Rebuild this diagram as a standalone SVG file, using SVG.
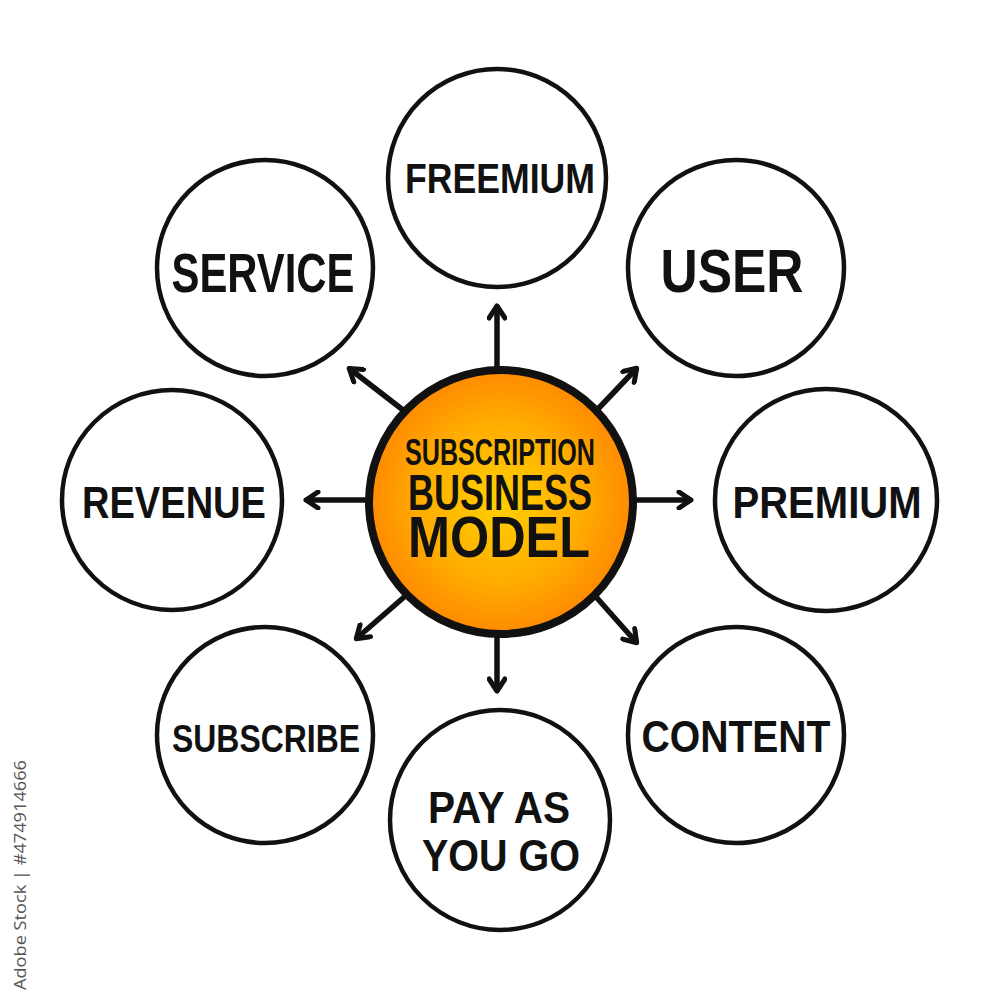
<svg xmlns="http://www.w3.org/2000/svg" width="1000" height="1000" viewBox="0 0 1000 1000">
<defs>
<radialGradient id="og" cx="50%" cy="50%" r="50%">
<stop offset="0" stop-color="#ffd000"/>
<stop offset="0.6" stop-color="#ffad00"/>
<stop offset="1" stop-color="#ff8a00"/>
</radialGradient>
<marker id="ah" viewBox="0 0 20 20" refX="14" refY="10" markerWidth="20" markerHeight="20" markerUnits="userSpaceOnUse" orient="auto">
<path d="M3,2 L15,10 L3,18" fill="none" stroke="#111" stroke-width="5" stroke-linecap="round" stroke-linejoin="round"/>
</marker>
</defs>
<style>
.c{fill:#fff;stroke:#111;stroke-width:4.5}
.t{font-family:"Liberation Sans",Arial,sans-serif;font-weight:bold;fill:#111;text-anchor:middle}
.a{stroke:#111;stroke-width:5.5;stroke-linecap:round;fill:none;marker-end:url(#ah)}
</style>
<rect width="1000" height="1000" fill="#fff"/>
<g id="connectors">
<line class="a" x1="497" y1="368" x2="497" y2="307"/>
<line class="a" x1="597" y1="410" x2="636" y2="369"/>
<line class="a" x1="637" y1="500" x2="690" y2="500"/>
<line class="a" x1="597" y1="598" x2="636" y2="642"/>
<line class="a" x1="497" y1="636" x2="497" y2="690"/>
<line class="a" x1="403" y1="598" x2="357" y2="638"/>
<line class="a" x1="365" y1="500" x2="307" y2="500"/>
<line class="a" x1="403" y1="410" x2="350" y2="369"/>
</g>
<g id="center">
<circle cx="501" cy="502" r="132" fill="url(#og)" stroke="#111" stroke-width="8"/>
<text class="t" x="500" y="465" font-size="36" textLength="190" lengthAdjust="spacingAndGlyphs">SUBSCRIPTION</text>
<text class="t" x="500" y="510" font-size="50" textLength="184" lengthAdjust="spacingAndGlyphs">BUSINESS</text>
<text class="t" x="499" y="557" font-size="58" textLength="182" lengthAdjust="spacingAndGlyphs">MODEL</text>
</g>
<g id="freemium">
<circle class="c" cx="497" cy="178" r="109"/>
<text class="t" x="500" y="193" font-size="42" textLength="190" lengthAdjust="spacingAndGlyphs">FREEMIUM</text>
</g>
<g id="user">
<circle class="c" cx="736" cy="268" r="108"/>
<text class="t" x="732" y="292" font-size="62" textLength="143" lengthAdjust="spacingAndGlyphs">USER</text>
</g>
<g id="premium">
<circle class="c" cx="826" cy="500" r="111"/>
<text class="t" x="827" y="518" font-size="45" textLength="189" lengthAdjust="spacingAndGlyphs">PREMIUM</text>
</g>
<g id="content">
<circle class="c" cx="736" cy="735" r="108"/>
<text class="t" x="736" y="752" font-size="45" textLength="189" lengthAdjust="spacingAndGlyphs">CONTENT</text>
</g>
<g id="payasyougo">
<circle class="c" cx="500" cy="820" r="110"/>
<text class="t" x="499" y="823" font-size="45" textLength="142" lengthAdjust="spacingAndGlyphs">PAY AS</text>
<text class="t" x="501" y="871" font-size="45" textLength="158" lengthAdjust="spacingAndGlyphs">YOU GO</text>
</g>
<g id="subscribe">
<circle class="c" cx="265" cy="735" r="108"/>
<text class="t" x="266" y="752" font-size="39" textLength="188" lengthAdjust="spacingAndGlyphs">SUBSCRIBE</text>
</g>
<g id="revenue">
<circle class="c" cx="172" cy="500" r="110"/>
<text class="t" x="174" y="518" font-size="45" textLength="184" lengthAdjust="spacingAndGlyphs">REVENUE</text>
</g>
<g id="service">
<circle class="c" cx="265" cy="268" r="108"/>
<text class="t" x="263" y="292" font-size="56" textLength="183" lengthAdjust="spacingAndGlyphs">SERVICE</text>
</g>
<text x="0" y="0" transform="translate(26,990) rotate(-90)" font-family="'Open Sans','Liberation Sans',sans-serif" font-size="17" fill="#555" textLength="230" lengthAdjust="spacingAndGlyphs">Adobe Stock | #474914666</text>
</svg>
